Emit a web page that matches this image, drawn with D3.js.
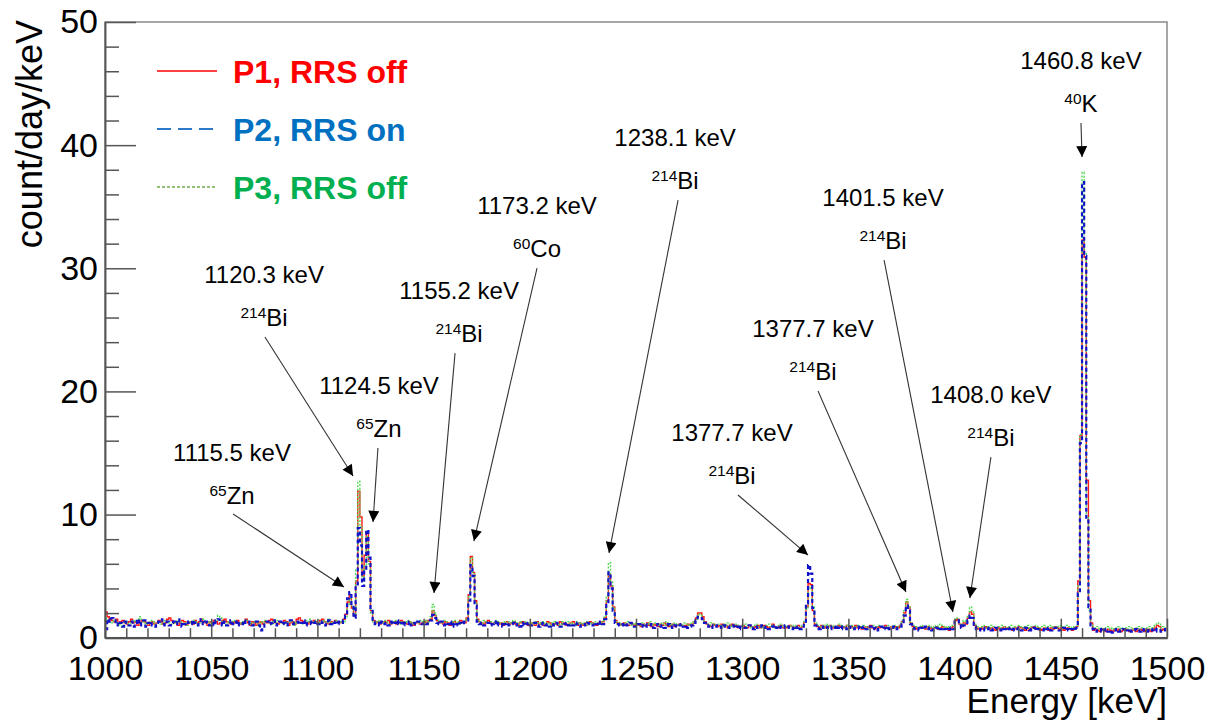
<!DOCTYPE html>
<html>
<head>
<meta charset="utf-8">
<script src="https://cdn.jsdelivr.net/npm/d3@7"></script>
<style>
  body { margin: 0; background: #fff; }
  svg { display: block; }
  text { font-family: "Liberation Sans", Arial, Helvetica, sans-serif; }
</style>
</head>
<body>
<svg id="chart" width="1222" height="726"></svg>
<script>
// Gamma spectra, 1 keV bins from 1000 to 1500 keV (count/day/keV)
const binStart = 1000;
const binWidth = 1;

const p1Counts = [
  2.1,1.7,1.5,1.4,1.3,1.5,1.2,1.3,1.4,1.2, 1.1,1.3,1.5,1.2,1.3,1.0,1.2,1.4,1.3,1.2,
  1.0,1.2,1.3,1.1,1.2,1.4,1.3,1.1,1.2,1.5, 1.6,1.4,1.2,1.3,1.0,1.2,1.4,1.3,1.0,1.2,
  1.3,1.1,1.4,1.2,1.3,1.5,1.3,1.2,1.0,1.3,
  1.2,1.4,1.3,1.1,1.2,1.4,1.5,1.3,1.2,1.1, 1.3,1.2,1.4,1.1,1.2,1.3,1.5,1.2,1.0,1.3,
  1.2,1.0,1.2,1.3,1.1,1.3,1.2,1.4,1.5,1.3, 1.2,1.1,1.3,1.2,1.4,1.3,1.0,1.2,1.3,1.1,
  1.5,1.6,1.4,1.3,1.2,1.1,1.3,1.2,1.4,1.3,
  1.2,1.4,1.5,1.3,1.2,1.1,1.3,1.2,1.4,1.3, 1.2,1.3,1.5,1.9,2.9,3.5,2.4,1.8,4.6,11.9,
  9.8,5.0,6.7,8.6,6.2,2.2,1.4,1.2,1.3,1.1, 1.2,1.3,1.2,1.4,1.1,1.2,1.3,1.1,1.2,1.4,
  1.3,1.2,1.1,1.3,1.2,1.0,1.2,1.3,1.1,1.2,
  1.3,1.2,1.4,1.5,2.2,1.8,1.4,1.3,1.2,1.1, 1.3,1.2,1.0,1.2,1.3,1.1,1.2,1.4,1.3,1.2,
  1.6,3.5,6.6,5.3,3.0,1.5,1.3,1.2,1.1,1.3, 1.4,1.2,1.1,1.2,1.3,1.1,1.2,1.0,1.2,1.3,
  1.1,1.2,1.3,1.1,1.0,1.2,1.3,1.1,1.2,1.0,
  1.1,1.2,1.0,1.3,1.1,1.2,1.0,1.1,1.3,1.2, 1.0,1.1,1.2,1.0,1.3,1.1,1.2,1.0,1.1,1.2,
  1.3,1.1,1.0,1.2,1.1,1.0,1.2,1.1,1.3,1.2, 1.1,1.0,1.2,1.1,1.3,1.6,3.0,5.1,4.2,2.5,
  1.4,1.2,1.1,1.0,1.2,1.1,1.0,1.2,1.1,1.0,
  1.1,1.0,0.9,1.1,1.0,1.2,1.0,0.9,1.1,1.0, 0.9,1.1,1.0,1.2,1.0,0.9,1.0,1.1,0.9,1.0,
  1.1,1.0,0.9,1.0,1.1,1.0,1.1,1.3,1.6,2.0, 2.0,1.7,1.3,1.1,1.0,0.9,1.1,1.0,0.9,1.0,
  1.1,0.9,1.0,0.8,1.0,1.1,0.9,1.0,0.8,0.9,
  1.0,0.9,0.8,1.0,0.9,0.8,0.9,1.0,0.8,0.9, 1.0,0.9,0.8,0.9,1.1,0.9,0.8,0.9,1.0,0.8,
  0.9,0.8,1.0,0.9,0.8,0.9,1.0,0.8,0.9,1.3, 2.5,4.4,4.3,2.2,1.1,0.9,0.8,1.0,0.9,0.8,
  0.9,1.0,0.8,0.9,0.8,1.0,0.9,0.8,0.9,1.0,
  0.8,0.9,0.8,1.0,0.8,0.9,0.7,0.8,0.9,0.8, 1.0,0.8,0.7,0.9,0.8,0.9,0.8,1.0,0.8,0.7,
  0.9,0.8,0.9,0.8,1.0,1.3,2.0,2.9,2.5,1.2, 0.9,0.8,0.7,0.8,0.9,0.8,0.7,0.9,0.8,0.7,
  0.8,0.9,0.7,0.8,0.9,0.7,0.8,0.6,0.8,0.9,
  1.4,1.5,1.1,0.9,1.2,1.1,1.6,2.1,1.9,1.0, 0.8,0.7,0.8,0.7,0.9,0.8,0.7,0.8,0.7,0.6,
  0.8,0.7,0.8,0.9,0.7,0.8,0.7,0.6,0.8,0.7, 0.9,0.8,0.7,0.6,0.8,0.7,0.8,0.9,0.7,0.8,
  0.6,0.7,0.8,0.7,0.6,0.8,0.7,0.9,0.8,0.7,
  0.8,0.6,0.7,0.8,0.7,0.6,0.8,0.9,4.6,16.4, 32.3,30.9,12.8,3.0,1.2,0.6,0.7,0.6,0.5,0.7,
  0.6,0.5,0.7,0.6,0.5,0.7,0.6,0.7,0.5,0.6, 0.7,0.6,0.5,0.6,0.7,0.5,0.6,0.7,0.6,0.5,
  0.6,0.7,0.5,0.6,0.8,1.0,0.9,0.6,0.7,0.6
];

const p2Counts = [
  0.7,1.5,1.3,1.6,1.4,1.0,1.3,1.2,0.9,1.3, 1.2,1.0,1.3,0.9,1.2,1.5,1.0,1.2,1.4,0.9,
  1.2,1.3,1.0,0.9,1.2,1.3,1.5,1.1,1.0,1.3, 1.0,1.2,1.3,1.1,1.5,1.2,0.9,1.1,1.3,1.2,
  1.1,1.4,1.2,1.0,1.2,1.5,1.1,1.3,1.2,1.0,
  1.2,1.0,1.4,1.5,1.2,1.0,1.3,1.0,1.2,1.4, 1.1,1.3,1.0,1.2,1.1,1.4,1.2,1.3,1.1,1.0,
  1.2,1.3,1.0,0.6,0.9,1.2,1.3,1.1,1.2,1.4, 1.0,1.2,1.3,1.1,1.2,1.0,1.3,1.4,1.1,1.2,
  1.3,1.1,1.2,1.4,1.0,1.2,1.3,1.1,1.2,1.3,
  1.1,1.3,1.2,1.0,1.2,1.4,1.1,1.3,1.2,1.1, 1.3,1.2,1.4,1.8,3.2,3.7,2.6,1.6,4.2,8.9,
  7.5,4.2,5.5,8.75,6.5,2.3,1.3,1.1,1.2,1.0, 1.3,1.1,1.2,1.0,1.3,1.1,1.2,1.4,1.1,1.2,
  1.0,1.2,1.1,1.3,1.0,1.2,1.1,1.3,1.2,1.1,
  1.2,1.1,1.3,1.4,1.85,1.6,1.2,1.1,1.3,1.0, 1.2,1.1,1.3,0.9,1.2,1.1,1.0,1.2,1.1,1.3,
  1.4,3.0,5.9,5.0,2.6,1.3,1.1,1.2,1.0,1.1, 1.2,1.0,1.1,1.3,1.0,1.2,1.1,0.9,1.1,1.2,
  1.0,1.1,1.2,1.0,1.1,0.9,1.2,1.0,1.1,1.2,
  1.0,1.1,1.2,1.0,0.9,1.1,1.2,1.0,1.1,0.9, 1.1,1.0,1.2,1.1,0.9,1.0,1.1,1.2,1.0,1.1,
  1.0,1.2,1.1,0.9,1.0,1.1,1.0,1.2,1.1,1.0, 1.2,1.1,1.0,1.3,1.1,1.5,2.8,5.3,4.0,2.2,
  1.2,1.1,1.0,1.1,0.9,1.0,1.1,1.2,1.0,0.9,
  1.0,1.1,0.9,1.0,1.1,0.9,1.0,1.1,0.8,1.0, 1.1,0.9,1.0,0.8,1.0,1.1,0.9,0.8,1.0,0.9,
  1.0,1.1,0.9,1.0,0.8,0.9,1.0,1.2,1.4,1.7, 1.7,1.5,1.2,1.0,0.9,1.0,0.8,0.9,1.0,0.9,
  0.8,1.0,0.9,0.8,0.9,1.0,0.8,0.9,0.7,0.9,
  0.9,0.8,0.9,1.0,0.8,0.7,0.9,0.8,0.9,1.0, 0.8,0.9,0.7,0.8,0.9,1.0,0.8,0.7,0.9,0.8,
  1.0,0.9,0.8,0.7,0.9,0.8,0.9,0.7,0.8,1.2, 2.8,5.9,5.2,2.4,1.0,0.8,0.7,0.9,0.8,0.9,
  0.8,0.7,0.9,0.8,1.0,0.8,0.7,0.9,0.8,0.7,
  0.9,0.8,0.7,0.8,0.9,0.7,0.8,0.9,0.7,0.8, 0.9,0.7,0.8,0.6,0.8,0.9,0.7,0.8,0.9,0.7,
  0.8,0.9,0.7,0.8,0.9,1.1,1.8,2.6,2.2,1.1, 0.8,0.7,0.8,0.6,0.8,0.7,0.9,0.7,0.8,0.6,
  0.7,0.8,0.6,0.7,0.8,0.7,0.6,0.7,0.8,0.7,
  1.3,1.4,1.0,0.8,1.0,1.0,1.4,1.8,1.6,0.9, 0.7,0.6,0.7,0.8,0.6,0.7,0.8,0.6,0.7,0.8,
  0.7,0.6,0.8,0.7,0.6,0.7,0.8,0.7,0.6,0.7, 0.8,0.6,0.7,0.8,0.7,0.6,0.7,0.8,0.6,0.7,
  0.7,0.6,0.8,0.7,0.8,0.6,0.7,0.8,0.7,0.6,
  0.7,0.8,0.6,0.7,0.6,0.7,0.6,0.8,3.6,15.8, 37.0,31.0,9.5,2.5,1.0,0.7,0.5,0.6,0.7,0.5,
  0.6,0.7,0.5,0.6,0.4,0.6,0.7,0.5,0.6,0.7, 0.5,0.6,0.7,0.5,0.6,0.7,0.6,0.5,0.7,0.6,
  0.5,0.6,0.7,0.6,0.5,0.7,0.6,0.5,0.6,0.7
];

const p3Counts = [
  1.6,1.4,1.3,1.2,1.4,1.3,1.2,1.0,0.9,1.2, 1.3,1.1,1.2,1.4,1.3,1.5,1.7,1.2,1.3,1.1,
  1.2,1.4,1.3,1.1,1.2,1.3,1.1,1.2,1.4,1.3, 1.2,1.1,1.3,1.2,1.4,1.3,1.1,1.2,1.0,1.3,
  1.2,1.4,1.3,1.1,1.2,1.3,1.5,1.2,1.3,1.1,
  1.3,1.2,1.4,1.8,1.6,1.3,1.2,1.1,1.3,1.2, 1.4,1.3,1.2,1.1,1.3,1.2,1.4,1.3,1.1,1.2,
  1.3,1.2,1.0,1.3,1.2,1.4,1.3,1.2,1.1,1.3, 1.2,1.4,1.3,1.2,1.1,1.3,1.2,1.4,1.3,1.0,
  1.2,1.3,1.1,1.2,1.4,1.3,1.5,1.2,1.3,1.4,
  1.3,1.2,1.4,1.3,1.2,1.5,1.3,1.2,1.4,1.3, 1.2,1.4,1.3,1.7,2.6,3.2,2.5,1.9,5.5,12.7,
  9.0,4.6,5.8,8.2,6.0,2.0,1.3,1.2,1.4,1.3, 1.2,1.4,1.3,1.1,1.2,1.3,1.4,1.2,1.3,1.1,
  1.3,1.2,1.4,1.3,1.2,1.1,1.3,1.2,1.4,1.3,
  1.2,1.4,1.3,1.7,2.7,2.0,1.5,1.3,1.2,1.4, 1.3,1.1,1.2,1.3,1.4,1.2,1.3,1.1,1.2,1.3,
  1.5,3.3,6.5,5.2,2.8,1.4,1.3,1.2,1.4,1.3, 1.2,1.3,1.1,1.2,1.4,1.3,1.2,1.1,1.3,1.2,
  1.3,1.2,1.4,1.2,1.1,1.3,1.2,1.3,1.1,1.2,
  1.2,1.1,1.3,1.2,1.0,1.2,1.3,1.1,1.2,1.0, 1.2,1.3,1.1,1.2,1.0,1.3,1.1,1.2,1.3,1.1,
  1.2,1.0,1.3,1.1,1.2,1.1,1.3,1.0,1.2,1.1, 1.3,1.2,1.1,1.2,1.4,1.8,3.4,6.1,4.6,2.4,
  1.3,1.1,1.2,1.0,1.1,1.2,1.3,1.1,1.0,1.2,
  1.1,1.0,1.2,1.1,1.0,1.1,1.3,1.0,1.1,1.2, 1.0,1.1,1.2,1.0,1.3,1.1,1.0,1.1,1.2,1.0,
  1.1,1.0,1.2,1.1,1.0,1.1,1.2,1.3,1.5,1.9, 1.8,1.5,1.2,1.1,1.0,1.2,1.1,1.0,1.1,1.0,
  0.9,1.1,1.0,1.2,1.1,0.9,1.0,1.1,1.0,0.9,
  1.0,1.1,0.9,1.0,0.8,1.0,1.1,0.9,1.0,0.8, 0.9,1.0,1.1,0.9,1.0,0.8,0.9,1.0,1.1,0.9,
  1.0,0.9,0.8,1.0,0.9,1.0,0.8,0.9,1.0,1.3, 2.3,4.0,4.1,2.5,1.2,1.0,0.9,1.0,0.8,1.1,
  1.0,0.9,1.0,0.8,0.9,1.1,1.0,0.8,0.9,1.0,
  0.9,1.0,0.8,0.9,1.0,0.8,0.9,1.0,0.9,0.8, 0.9,1.0,0.8,0.9,1.0,0.9,0.8,0.9,1.0,0.8,
  0.9,1.0,0.8,0.9,1.0,1.4,2.2,3.1,2.6,1.3, 1.0,0.9,0.8,0.9,1.0,0.9,0.8,0.9,1.0,0.8,
  0.9,1.0,0.8,1.1,1.0,0.8,0.9,0.8,1.0,0.9,
  1.5,1.6,1.2,1.0,1.4,1.3,1.8,2.5,2.2,1.1, 0.9,0.8,0.9,1.0,0.8,0.9,0.8,1.0,0.9,0.8,
  0.9,0.8,1.0,0.9,0.8,0.9,1.0,0.8,0.9,0.8, 1.0,0.9,0.8,0.9,1.0,0.8,0.9,0.8,1.0,0.9,
  0.8,0.9,1.0,0.8,0.9,1.0,0.8,0.9,0.8,1.0,
  0.9,0.8,1.0,0.9,0.8,0.9,0.8,1.0,4.2,16.5, 37.8,31.3,9.8,2.2,1.1,0.7,0.8,0.9,0.7,0.8,
  0.7,0.8,0.9,0.7,0.8,0.7,0.8,0.9,0.7,0.8, 0.8,0.7,0.9,0.8,0.7,0.8,0.9,0.7,0.8,0.7,
  0.8,0.9,0.7,0.8,1.0,1.2,1.1,0.8,0.9,0.8
];

const seriesNames = ["P1, RRS off", "P2, RRS on", "P3, RRS off"];

const xMajorTicks = [1000, 1050, 1100, 1150, 1200, 1250, 1300, 1350, 1400, 1450, 1500];
const yMajorTicks = [0, 10, 20, 30, 40, 50];

// Peak annotations: energy text, isotope (mass number, element),
// text anchor and arrow ends in data units (keV, count/day/keV)
const peakEnergyText = ["1115.5 keV", "1120.3 keV", "1124.5 keV", "1155.2 keV", "1173.2 keV",
  "1238.1 keV", "1377.7 keV", "1377.7 keV", "1401.5 keV", "1408.0 keV", "1460.8 keV"];
const peakMass = ["65", "214", "65", "214", "60", "214", "214", "214", "214", "214", "40"];
const peakElement = ["Zn", "Bi", "Zn", "Bi", "Co", "Bi", "Bi", "Bi", "Bi", "Bi", "K"];
const labelAnchor = [[1059.8,14.35],[1074.9,28.80],[1129.0,19.79],[1166.7,27.52],[1203.4,34.41],
  [1268.4,39.93],[1295.2,15.97],[1333.3,24.42],[1366.3,35.06],[1417.1,19.06],[1459.5,46.17]];
const arrowFrom = [[1060.3,10.05],[1075.3,24.42],[1128.5,15.40],[1164.8,23.11],[1203.4,30.02],
  [1269.8,35.54],[1298.0,11.59],[1335.7,20.03],[1366.8,30.67],[1417.1,14.67],[1459.5,41.79]];
const arrowTo = [[1112.5,4.12],[1116.8,13.13],[1126.2,9.40],[1154.9,3.63],[1173.7,7.85],
  [1237.3,6.88],[1331.0,6.71],[1377.1,3.71],[1399.2,2.09],[1407.2,3.22],[1460.0,39.03]];

// ---- drawing ----
const svg = d3.select("#chart");
const W = 1222, H = 726;
const plot = { left: 105, right: 1167, top: 22, bottom: 637.7 };

const x = d3.scaleLinear().domain([1000, 1500]).range([plot.left, plot.right]);
const y = d3.scaleLinear().domain([0, 50]).range([plot.bottom, plot.top]);

svg.append("rect").attr("width", W).attr("height", H).attr("fill", "#fff");

svg.append("defs").append("clipPath").attr("id", "plotClip")
  .append("rect")
  .attr("x", plot.left).attr("y", plot.top)
  .attr("width", plot.right - plot.left).attr("height", plot.bottom - plot.top);

// histogram outlines (step lines)
function stepPoints(counts) {
  const pts = counts.map((v, i) => [binStart + i * binWidth, v]);
  pts.push([binStart + counts.length * binWidth, counts[counts.length - 1]]);
  return pts;
}
const stepLine = d3.line().x(d => x(d[0])).y(d => y(d[1])).curve(d3.curveStepAfter);

const histStyles = [
  { data: p1Counts, stroke: "#ff1a1a", width: 1.4, dash: null },
  { data: p3Counts, stroke: "#55d855", width: 1.4, dash: "2,1.6" },
  { data: p2Counts, stroke: "#1212c8", width: 2.2, dash: "4,3" }
];
const histG = svg.append("g").attr("clip-path", "url(#plotClip)");
histStyles.forEach(s => {
  histG.append("path")
    .attr("d", stepLine(stepPoints(s.data)))
    .attr("fill", "none")
    .attr("stroke", s.stroke)
    .attr("stroke-width", s.width)
    .attr("stroke-dasharray", s.dash);
});

// frame
const axisColor = "#555";
svg.append("rect")
  .attr("x", plot.left).attr("y", plot.top)
  .attr("width", plot.right - plot.left).attr("height", plot.bottom - plot.top)
  .attr("fill", "none").attr("stroke", "#8a8a8a").attr("stroke-width", 1.5);

// x axis: major + minor ticks pointing up
const xMinor = d3.range(1000, 1501, 10).filter(v => !xMajorTicks.includes(v));
const xAxisG = svg.append("g").attr("transform", `translate(0,${plot.bottom})`);
xAxisG.call(d3.axisBottom(x).tickValues(xMajorTicks).tickSizeInner(-19).tickSizeOuter(0)
  .tickPadding(18).tickFormat(d3.format("d")));
const xMinorG = svg.append("g").attr("transform", `translate(0,${plot.bottom})`);
xMinorG.call(d3.axisBottom(x).tickValues(xMinor).tickSizeInner(-9.5).tickSizeOuter(0).tickFormat(""));

// y axis: major + minor ticks pointing right
const yMinor = d3.range(0, 51, 2).filter(v => !yMajorTicks.includes(v));
const yAxisG = svg.append("g").attr("transform", `translate(${plot.left},0)`);
yAxisG.call(d3.axisLeft(y).tickValues(yMajorTicks).tickSizeInner(-31).tickSizeOuter(0)
  .tickPadding(7).tickFormat(d3.format("d")));
const yMinorG = svg.append("g").attr("transform", `translate(${plot.left},0)`);
yMinorG.call(d3.axisLeft(y).tickValues(yMinor).tickSizeInner(-14).tickSizeOuter(0).tickFormat(""));

[xAxisG, xMinorG, yAxisG, yMinorG].forEach(g => {
  g.selectAll(".tick line").attr("stroke", axisColor).attr("stroke-width", 1.5);
  g.select(".domain").attr("stroke", axisColor).attr("stroke-width", 1.5);
});
xAxisG.select(".domain").attr("stroke", "#333").attr("stroke-width", 2);
xAxisG.selectAll(".tick text").attr("font-size", 34).attr("fill", "#000");
yAxisG.selectAll(".tick text").attr("font-size", 34).attr("fill", "#000");

// axis titles
svg.append("text")
  .attr("x", plot.right).attr("y", 713)
  .attr("text-anchor", "end").attr("font-size", 35).attr("fill", "#000")
  .text("Energy [keV]");
svg.append("text")
  .attr("transform", `translate(42,${plot.top - 2}) rotate(-90)`)
  .attr("text-anchor", "end").attr("font-size", 36).attr("fill", "#000")
  .text("count/day/keV");

// legend
const legendText = ["#ff0000", "#0070c0", "#00b050"];
const legendLine = [
  { stroke: "#ff0000", width: 1.5, dash: null },
  { stroke: "#2e78c8", width: 1.8, dash: "14,7" },
  { stroke: "#70ad47", width: 1.5, dash: "3,2" }
];
const legendRows = [71, 129, 187];
seriesNames.forEach((name, i) => {
  svg.append("line")
    .attr("x1", 157).attr("x2", 217)
    .attr("y1", legendRows[i]).attr("y2", legendRows[i])
    .attr("stroke", legendLine[i].stroke)
    .attr("stroke-width", legendLine[i].width)
    .attr("stroke-dasharray", legendLine[i].dash);
  svg.append("text")
    .attr("x", 233).attr("y", legendRows[i] + 12)
    .attr("font-size", 32).attr("font-weight", "bold")
    .attr("fill", legendText[i])
    .text(name);
});

// peak annotations
const defs = svg.select("defs");
defs.append("marker")
  .attr("id", "arrowHead")
  .attr("viewBox", "0 0 10 10")
  .attr("refX", 10).attr("refY", 5)
  .attr("markerUnits", "userSpaceOnUse")
  .attr("markerWidth", 13).attr("markerHeight", 11)
  .attr("orient", "auto")
  .append("path").attr("d", "M0,0 L10,5 L0,10 Z").attr("fill", "#000");

const annG = svg.append("g");
peakEnergyText.forEach((txt, i) => {
  const ax = x(labelAnchor[i][0]);
  const ay = y(labelAnchor[i][1]);
  annG.append("text")
    .attr("x", ax).attr("y", ay)
    .attr("text-anchor", "middle").attr("font-size", 24).attr("fill", "#000")
    .text(txt);
  const iso = annG.append("text")
    .attr("x", ax).attr("y", ay + 43)
    .attr("text-anchor", "middle").attr("font-size", 24).attr("fill", "#000");
  iso.append("tspan").attr("font-size", 15.5).attr("dy", -8).text(peakMass[i]);
  iso.append("tspan").attr("dy", 8).text(peakElement[i]);
  annG.append("line")
    .attr("x1", x(arrowFrom[i][0])).attr("y1", y(arrowFrom[i][1]))
    .attr("x2", x(arrowTo[i][0])).attr("y2", y(arrowTo[i][1]))
    .attr("stroke", "#333").attr("stroke-width", 1.1)
    .attr("marker-end", "url(#arrowHead)");
});
</script>
</body>
</html>
